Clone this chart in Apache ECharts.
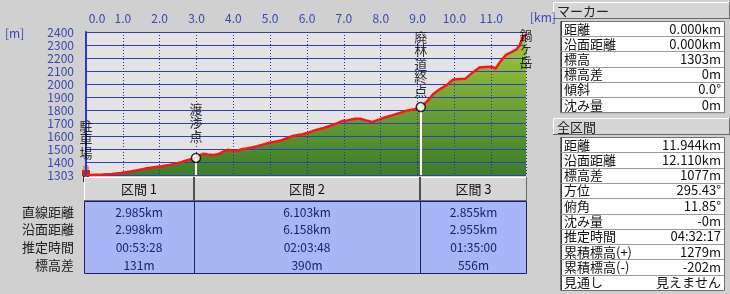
<!DOCTYPE html>
<html><head><meta charset="utf-8">
<script src="https://cdn.jsdelivr.net/npm/echarts@6/dist/echarts.min.js"></script>
<style>html,body{margin:0;padding:0;background:#d0d0d0}#c{width:730px;height:294px}</style>
</head><body><div id="c"></div>
<script>
// ---- data ----
const profileKm = [0.00,0.20,0.45,0.70,0.95,1.20,1.40,1.66,1.85,2.05,2.30,2.45,2.57,2.70,2.85,2.985,3.08,3.18,3.30,3.45,3.58,3.72,3.86,3.96,4.06,4.20,4.35,4.50,4.65,4.80,4.95,5.10,5.30,5.45,5.58,5.72,5.88,6.03,6.15,6.30,6.45,6.65,6.82,6.98,7.10,7.30,7.45,7.60,7.78,7.95,8.10,8.30,8.50,8.70,8.92,9.088,9.25,9.43,9.60,9.80,9.97,10.15,10.30,10.50,10.68,10.85,11.00,11.12,11.25,11.40,11.55,11.68,11.78,11.86,11.944];
const profileElev = [1303,1304,1306,1311,1319,1330,1340,1354,1362,1370,1382,1392,1400,1412,1425,1434,1452,1466,1460,1456,1462,1482,1497,1490,1486,1498,1506,1514,1524,1536,1548,1556,1568,1585,1600,1608,1616,1628,1640,1652,1664,1683,1700,1720,1722,1735,1734,1722,1710,1728,1744,1760,1778,1796,1808,1824,1866,1924,1960,1994,2036,2040,2042,2090,2128,2132,2134,2120,2175,2224,2245,2265,2300,2365,2380];
const yTicks = [1303,1400,1500,1600,1700,1800,1900,2000,2100,2200,2300,2400];
const xMax = 11.944;
const waypointNames = ['駐車場','渡渉点','廃林道終点','鍋ヶ岳'];
const waypointKm = [0, 2.985, 9.088, 11.944];
const waypointElev = [1303, 1434, 1824, 2380];
const sectionNames = ['区間 1','区間 2','区間 3'];
const sectionRowLabels = ['直線距離','沿面距離','推定時間','標高差'];
const sectionStraight = ['2.985km','6.103km','2.855km'];
const sectionSurface = ['2.998km','6.158km','2.955km'];
const sectionTime = ['00:53:28','02:03:48','01:35:00'];
const sectionElevDiff = ['131m','390m','556m'];
const markerLabels = ['距離','沿面距離','標高','標高差','傾斜','沈み量'];
const markerValues = ['0.000km','0.000km','1303m','0m','0.0°','0m'];
const totalLabels = ['距離','沿面距離','標高差','方位','俯角','沈み量','推定時間','累積標高(+)','累積標高(-)','見通し'];
const totalValues = ['11.944km','12.110km','1077m','295.43°','11.85°','-0m','04:32:17','1279m','-202m','見えません'];

// ---- chart ----
const FONT = "'Noto Sans CJK JP','Noto Sans',sans-serif";
const chart = echarts.init(document.getElementById('c'));
const profile = profileKm.map((k,i)=>[k, profileElev[i]]);

const G = [];
function txt(x,y,s,o){G.push({type:'text',x,y,z:100,style:Object.assign({text:s,fill:'#111',fontSize:12,fontFamily:FONT,align:'left',verticalAlign:'middle'},o||{})});}
function rect(x,y,w,h,o){G.push({type:'rect',z:90,shape:{x,y,width:w,height:h},style:Object.assign({fill:'none'},o||{})});}
function line(x1,y1,x2,y2,c,w){G.push({type:'line',z:95,shape:{x1,y1,x2,y2},style:{stroke:c,lineWidth:w||1}});}
function bevel(x,y,w,h){
  rect(x,y,w,h,{fill:'#d6d6d6'});
  line(x+0.5,y+0.5,x+w-0.5,y+0.5,'#ffffff',1);
  line(x+0.5,y+0.5,x+0.5,y+h-0.5,'#ffffff',1);
  line(x,y+h-0.5,x+w,y+h-0.5,'#6a6a6a',1);
  line(x+w-0.5,y,x+w-0.5,y+h,'#6a6a6a',1);
}
// axis unit labels
txt(5,33,'[m]',{fill:'#3848b0'});
txt(530,17,'[km]',{fill:'#3848b0'});

// section table
const bounds=[84,194,420,527];
for(let i=0;i<3;i++){
  bevel(bounds[i],177,bounds[i+1]-bounds[i],24);
  txt((bounds[i]+bounds[i+1])/2,189,sectionNames[i],{align:'center',fontSize:13});
}
rect(84.5,201.5,442,72,{fill:'#a8b5f7',stroke:'#1c2060',lineWidth:1});
line(194.5,201,194.5,274,'#1c2060',1);
line(420.5,201,420.5,274,'#1c2060',1);
line(194,177,194,201,'#505050',2);
line(420,177,420,201,'#505050',2);
const rowsY=[212,229.5,247,265.5];
const sectionRows=[sectionStraight,sectionSurface,sectionTime,sectionElevDiff];
for(let r=0;r<4;r++){
  txt(74,rowsY[r],sectionRowLabels[r],{align:'right',fontSize:13,fill:'#202020'});
  for(let i=0;i<3;i++) txt((bounds[i]+bounds[i+1])/2,rowsY[r],sectionRows[r][i],{align:'center',fill:'#1a2070'});
}
// right panel
function panel(y0,title,labels,values,rowH){
  bevel(553,y0,177,17);
  txt(557,y0+9,title,{fontSize:13,fill:'#222'});
  const ty=y0+19, h=labels.length*rowH;
  rect(560.5,ty+0.5,164,h,{fill:'#ffffff',stroke:'#707070',lineWidth:1});
  line(561.5,ty,561.5,ty+h,'#404040',1);
  for(let i=0;i<labels.length;i++){
    const cy=ty+rowH*(i+0.5);
    if(i>0) line(561,Math.round(ty+rowH*i)+0.5,724,Math.round(ty+rowH*i)+0.5,'#9a9a9a',1);
    txt(564,cy,labels[i],{fontSize:13,fill:'#111'});
    txt(721,cy,values[i],{fontSize:13,align:'right',fill:'#111'});
  }
}
panel(2,'マーカー',markerLabels,markerValues,15.2);
panel(118,'全区間',totalLabels,totalValues,15.3);

// hiker icon
G.push({type:'group',x:86,y:174,z:110,children:[
  {type:'circle',shape:{cx:0,cy:-6,r:3},style:{fill:'#d09070'}},
  {type:'rect',shape:{x:-4,y:-4,width:8,height:6},style:{fill:'#c02a1a'}},
  {type:'rect',shape:{x:-3,y:2,width:2.5,height:6},style:{fill:'#3a2a1a'}},
  {type:'rect',shape:{x:0.5,y:2,width:2.5,height:6},style:{fill:'#3a2a1a'}}
]});

const xFmt = v => v===0 ? '{a|0.0}' : (Math.abs(v-Math.round(v))<1e-9 ? v.toFixed(1) : '');
const option = {
  backgroundColor:'#d0d0d0',
  animation:false,
  grid:{left:86,top:32,width:440,height:143,show:true,backgroundColor:'#e3e3e3',borderWidth:0},
  xAxis:{type:'value',min:0,max:xMax,interval:1,position:'top',z:2,
    axisLine:{show:false},axisTick:{show:false},
    axisLabel:{color:'#3848b0',fontSize:12,fontFamily:FONT,margin:8,showMaxLabel:false,formatter:xFmt,
      rich:{a:{color:'#3848b0',fontSize:12,fontFamily:FONT,padding:[0,0,0,22]}}},
    splitLine:{show:true,lineStyle:{color:'#2232a8',type:[1,2],width:1}}},
  yAxis:{type:'value',min:1303,max:2400,z:2,
    axisLine:{show:true,lineStyle:{color:'#2a3cc8',width:2}},
    axisTick:{show:false,customValues:yTicks},
    axisLabel:{customValues:yTicks,color:'#3848b0',fontSize:12,fontFamily:FONT,margin:12,formatter:v=>String(Math.round(v))},
    splitLine:{show:true,lineStyle:{color:'#2e40c0',width:1}}},
  series:[
    {type:'line',data:profile,symbol:'none',z:1,lineStyle:{width:0},
     areaStyle:{opacity:1,color:new echarts.graphic.LinearGradient(0,0,0,1,[{offset:0,color:'#a3c83e'},{offset:1,color:'#3b7d2a'}])}},
    {type:'line',data:profile,symbol:'none',z:3,lineStyle:{color:'#ff1414',width:2.5},
     markLine:{silent:true,symbol:['none','none'],label:{show:false},lineStyle:{color:'#ffffff',width:2,type:'solid'},
       data:[1,2].map(i=>[{coord:[waypointKm[i],waypointElev[i]]},{coord:[waypointKm[i],1303]}])}},
    {type:'scatter',z:5,symbol:'circle',symbolSize:9,itemStyle:{color:'#ffffff',borderColor:'#000',borderWidth:1.5},
     data:[1,2].map(i=>[waypointKm[i],waypointElev[i]])},
    {type:'scatter',z:6,symbolSize:1,itemStyle:{color:'rgba(0,0,0,0)'},
     label:{show:true,color:'#000',fontSize:13,fontFamily:FONT,lineHeight:13.5,formatter:p=>p.name.split('').join('\n')},
     data:[
       {name:waypointNames[0],value:[waypointKm[0],waypointElev[0]],label:{position:'top',distance:15}},
       {name:waypointNames[1],value:[waypointKm[1],waypointElev[1]],label:{position:'top',distance:15}},
       {name:waypointNames[2],value:[waypointKm[2],waypointElev[2]],label:{position:'top',distance:9}},
       {name:waypointNames[3],value:[waypointKm[3],waypointElev[3]],label:{position:'bottom',distance:-7}}
     ]}
  ],
  graphic:{elements:G}
};
chart.setOption(option);
</script></body></html>
